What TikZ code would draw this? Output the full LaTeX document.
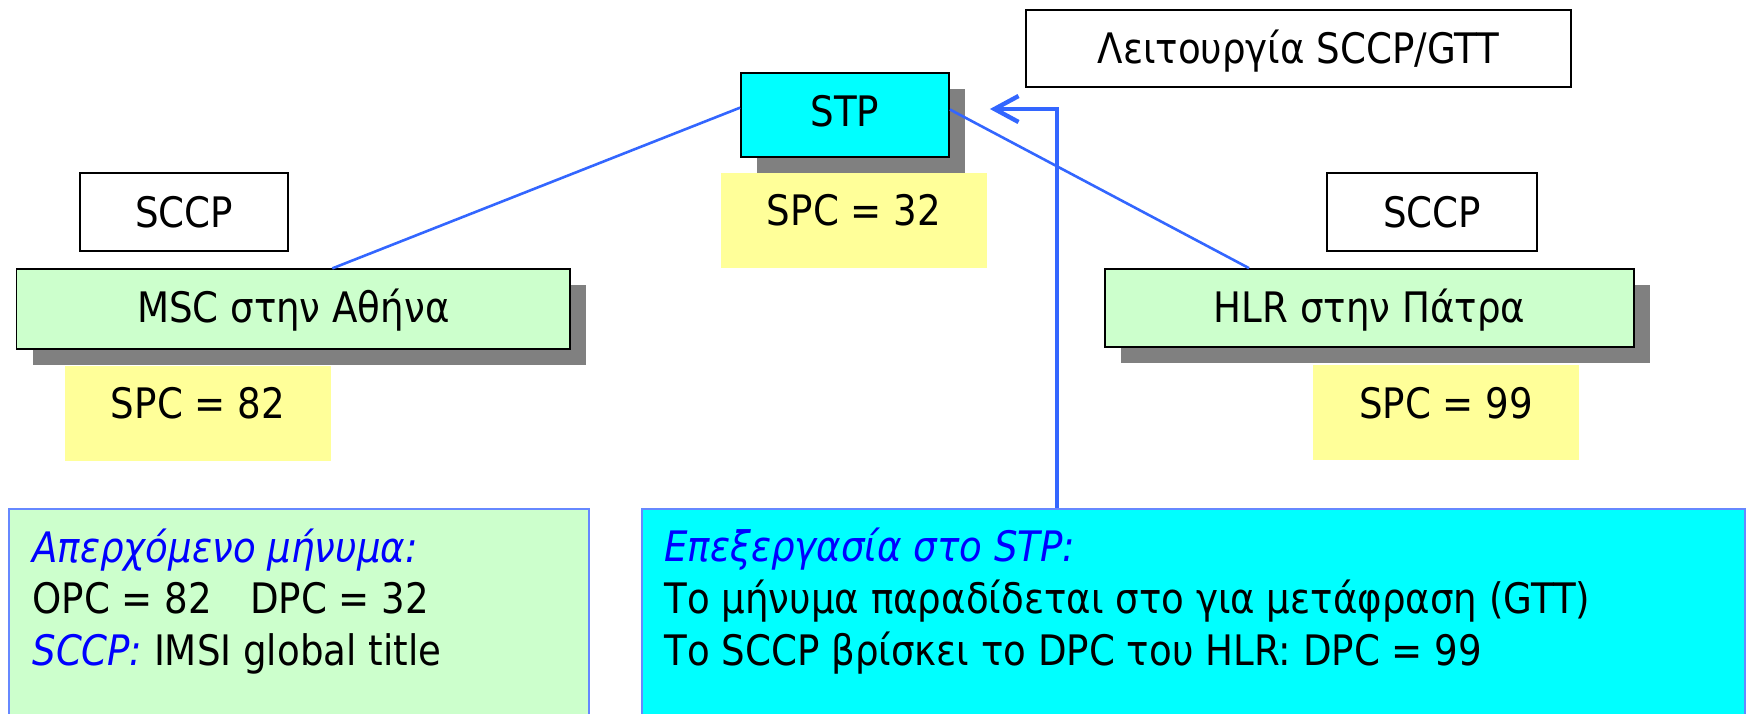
\documentclass[tikz,border=0pt]{standalone}
\usepackage{fontspec}
\setmainfont{DejaVu Sans}[FakeStretch=0.885]
\usetikzlibrary{arrows.meta,shadows,calc}
\definecolor{cyanbox}{HTML}{00FFFF}
\definecolor{greenbox}{HTML}{CCFFCC}
\definecolor{yellowbox}{HTML}{FFFF99}
\definecolor{shadowgray}{HTML}{808080}
\definecolor{linkblue}{HTML}{3366FF}
\definecolor{frameblue}{HTML}{6688FF}
\definecolor{textblue}{HTML}{0000FF}
\begin{document}
\begin{tikzpicture}[x=0.5pt,y=-0.5pt,
  every node/.style={font=\fontsize{21}{25}\selectfont, inner sep=0pt, text depth=0pt},
  framebox/.style={draw=black, line width=0.9pt},
  shad/.style={drop shadow={shadow xshift=8pt, shadow yshift=-8pt, opacity=1, fill=shadowgray}},
  spcbox/.style={fill=yellowbox, minimum width=133pt, minimum height=47.5pt, text height=5.3pt},
  infobox/.style={draw=frameblue, line width=0.8pt},
  link/.style={draw=linkblue, line width=1.3pt},
  arr/.style={draw=linkblue, line width=2.2pt, -{Straight Barb[length=12pt,width=13pt]}},
  infotext/.style={anchor=base west},
  emph/.style={}
]
\useasboundingbox (0,0) rectangle (1748,713);
\clip (0,0) rectangle (1748,713);

% top function box
\node[framebox, fill=white, minimum width=272.5pt, minimum height=38.5pt, text height=14.8pt] (gtt) at (1298.5,48.5) {Λειτουργία SCCP/GTT};

% STP
\node[framebox, fill=cyanbox, shad, minimum width=104pt, minimum height=42pt, text height=11pt] (stp) at (845,115) {STP};
\node[spcbox] (spc32) at (854,220.2) {SPC = 32};

% SCCP labels
\node[framebox, fill=white, minimum width=103.75pt, minimum height=39pt, text height=15.7pt] (sccpL) at (184,212) {SCCP};
\node[framebox, fill=white, minimum width=105.25pt, minimum height=39pt, text height=15.7pt] (sccpR) at (1432,212) {SCCP};

% MSC and HLR
\node[framebox, fill=greenbox, shad, minimum width=276.75pt, minimum height=40pt, text height=13.4pt] (msc) at (293.3,309.3) {MSC στην Αθήνα};
\node[framebox, fill=greenbox, shad, minimum width=264.5pt, minimum height=38.85pt, text height=14.8pt] (hlr) at (1369.5,307.9) {HLR στην Πάτρα};

\node[spcbox] (spc82) at (198,413.2) {SPC = 82};
\node[spcbox] (spc99) at (1446,412.8) {SPC = 99};

% links
\draw[link] (stp.176.7) -- ($(msc.north)+(39,0)$);
\draw[link] (stp.3.3) -- ($(hlr.north)+(-120.5,0)$);

% bottom info boxes
\node[infobox, fill=greenbox, minimum width=290pt, minimum height=125.5pt] (msg) at (299,634.5) {};
\node[infobox, fill=cyanbox, minimum width=551.5pt, minimum height=125.5pt] (proc) at (1193.5,634.5) {};

\node[infotext] (m1) at (32,562.7) {\color{textblue}\itshape Απερχόμενο μήνυμα:};
\node[infotext] (m2) at (32,613.3) {OPC = 82\hspace{19pt}DPC = 32};
\node[infotext] (m3) at (32,665) {{\color{textblue}\itshape SCCP:} IMSI global title};

\node[infotext] (p1) at (664,561.7) {\color{textblue}\itshape Επεξεργασία στο STP:};
\node[infotext] (p2) at (664,613) {Το μήνυμα παραδίδεται στο για μετάφραση (GTT)};
\node[infotext] (p3) at (664,665) {Το SCCP βρίσκει το DPC του HLR: DPC = 99};

% GTT arrow
\coordinate (arrx) at (1057,0);
\coordinate (tip) at ($(stp.east)+(40,-6)$);
\draw[arr] (proc.north -| arrx) |- (tip);
\end{tikzpicture}
\end{document}
